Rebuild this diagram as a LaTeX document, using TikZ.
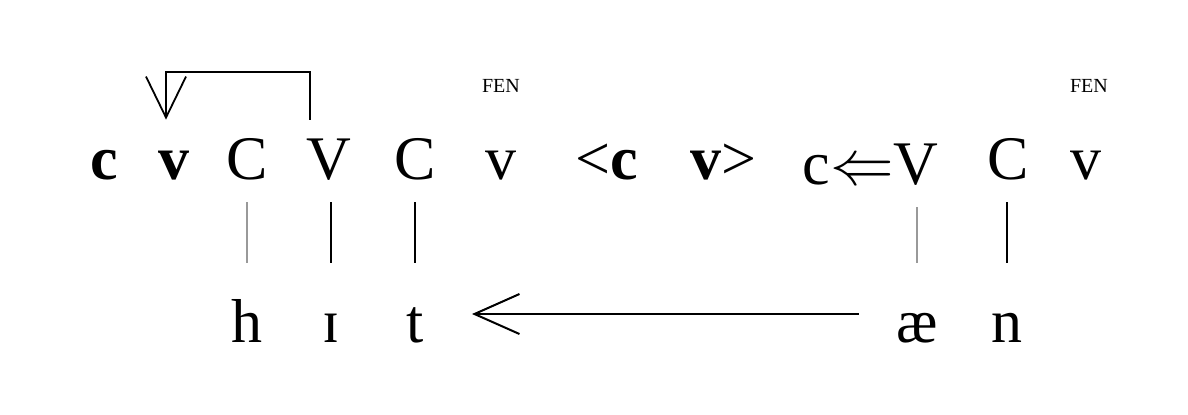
\documentclass[tikz,border=0pt]{standalone}
\usepackage{graphicx}
\usepackage{fontspec}
\setmainfont{Liberation Serif}
\usetikzlibrary{arrows.meta}
\begin{document}
\begin{tikzpicture}[x=0.5pt,y=-0.5pt]
	\tikzstyle{every node}+=[inner sep=0pt, font=\fontsize{31}{37}\selectfont]
	\tikzstyle{sk}=[anchor=base, text height=20.5pt, text depth=0pt]
	\tikzstyle{seg}=[anchor=base, text height=28pt, text depth=0pt]
	\tikzstyle{fen}=[anchor=base, font=\fontsize{10}{12}\selectfont]
	\tikzstyle{assoc}=[black, line width=0.8pt, shorten <=11.5pt, shorten >=11.5pt]
	\tikzstyle{faint}=[assoc, black!40]
	\tikzstyle{bracket}=[black, line width=0.9pt, -{Straight Barb[length=20.5pt,width=20pt]}]
	\tikzstyle{back}=[black, line width=1pt, shorten <=18.5pt, shorten >=24pt, -{Straight Barb[length=22.5pt,width=20pt]}]
	\useasboundingbox (0,0) rectangle (1188,414);
	\node [sk] (c1) at (104,179) {\textbf{c}};
	\node [sk] (v1) at (174,179) {\textbf{v}};
	\node [sk] (C1) at (247,179) {C};
	\node [sk] (V1) at (329,179) {V};
	\node [sk] (C2) at (415,179) {C};
	\node [sk] (v2) at (501,179) {v};
	\node [fen] (fen1) at (501,92) {FEN};
	\node [sk, anchor=base west] (c3) at (575,179) {<\textbf{c}};
	\node [sk, anchor=base west] (v3) at (690,179) {\textbf{v}>};
	\node [sk] (c4) at (816,184) {c};
	\node [sk] (arr) at (862,184) {\scalebox{1.28}{$\Leftarrow$}};
	\node [sk] (V4) at (916,184) {V};
	\node [sk] (C5) at (1008,179) {C};
	\node [sk] (v5) at (1086,179) {v};
	\node [fen] (fen2) at (1089,92) {FEN};
	\node [seg] (h) at (247,342) {h};
	\node [seg] (ih) at (331,342) {ɪ};
	\node [seg] (t) at (415,342) {t};
	\node [seg] (ae) at (917,342) {æ};
	\node [seg] (n) at (1007,342) {n};
	\draw [faint] (h.north |- C1.south) -- (h.north);
	\draw [assoc] (ih.north |- V1.south) -- (ih.north);
	\draw [assoc] (t.north |- C2.south) -- (t.north);
	\draw [faint] (ae.north |- V4.south) -- (ae.north);
	\draw [assoc] (n.north |- C5.south) -- (n.north);
	\draw [bracket] ([xshift=-9.5pt,yshift=9pt]V1.north) -- ([xshift=-9.5pt,yshift=33pt]V1.north) -| ([xshift=-4pt,yshift=9pt]v1.north);
	\draw [back] (ae) -- (t);
\end{tikzpicture}
\end{document}
